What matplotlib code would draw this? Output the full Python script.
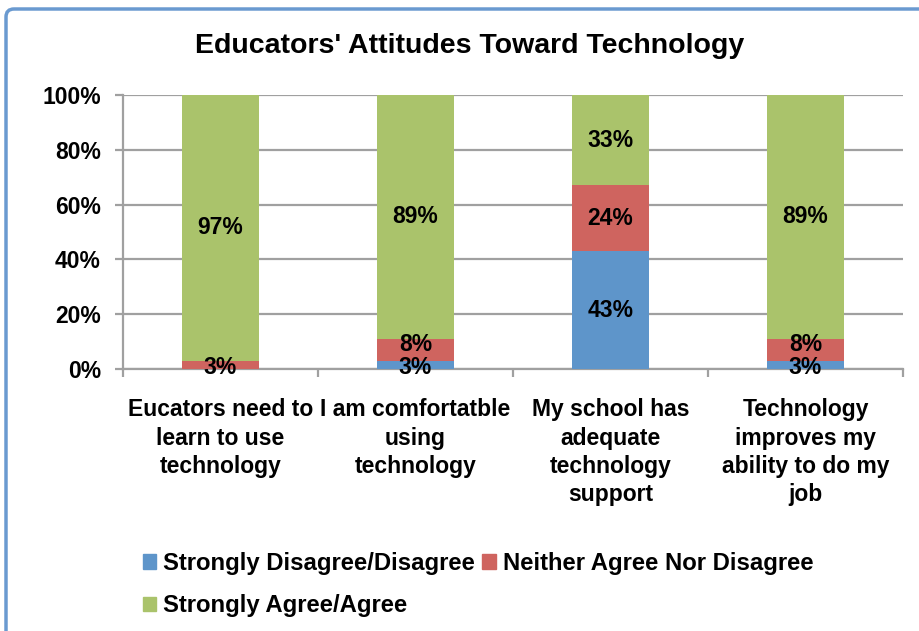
import matplotlib
matplotlib.use("Agg")
import matplotlib.pyplot as plt
from matplotlib.patches import FancyBboxPatch, Patch
import numpy as np

plt.rcParams['font.family'] = ['Liberation Sans', 'DejaVu Sans']
plt.rcParams['font.weight'] = 'bold'

# survey items and responses (percent)
categories = [
    "Eucators need to\nlearn to use\ntechnology",
    "I am comfortatble\nusing\ntechnology",
    "My school has\nadequate\ntechnology\nsupport",
    "Technology\nimproves my\nability to do my\njob",
]
disagree = [0, 3, 43, 3]
neutral = [3, 8, 24, 8]
agree = [97, 89, 33, 89]

series_names = ["Strongly Disagree/Disagree", "Neither Agree Nor Disagree",
                "Strongly Agree/Agree"]
colors = ["#5E95CA", "#CF645F", "#AAC36B"]
y_ticks = [0, 20, 40, 60, 80, 100]

fs = 16.5

fig = plt.figure(figsize=(9.19, 6.31), dpi=100)

# blue outer frame of the chart area
frame = FancyBboxPatch((6, -20), 940, 631 - 9 + 20,
                       boxstyle="round,pad=0,rounding_size=8",
                       transform=None, facecolor="none",
                       edgecolor="#6A9AD0", linewidth=2.5, zorder=0)
fig.patches.append(frame)

ax = fig.add_axes([123 / 919, 262 / 631, 780 / 919, 274 / 631])
ax.set_facecolor("none")

x = np.arange(len(categories))
width = 0.395
bottom = np.zeros(len(categories))
for vals, name, c in zip([disagree, neutral, agree], series_names, colors):
    vals = np.array(vals, dtype=float)
    ax.bar(x, vals, width, bottom=bottom, color=c, label=name, zorder=3)
    for xi, b, v in zip(x, bottom, vals):
        if v <= 0:
            continue
        # thin segments: spread the labels a little so they stay readable
        dy = 0
        if v < 10:
            dy = -2 if b == 0 else 4
        ax.annotate(f"{int(v)}%", (xi, b + v / 2), xytext=(0, dy),
                    textcoords="offset points", ha="center", va="center",
                    fontsize=fs, fontweight="bold", zorder=4)
    bottom += vals

ax.set_xlim(-0.5, len(categories) - 0.5)
ax.set_ylim(0, 100)
ax.set_yticks(y_ticks)
ax.set_yticklabels([f"{t}%" for t in y_ticks], fontsize=fs, fontweight="bold")
ax.yaxis.grid(True, color="#A0A0A0", linewidth=1.6, zorder=0)
ax.set_xticks(x)
ax.set_xticklabels(categories, fontsize=fs, fontweight="bold", linespacing=1.3)
ax.set_xticks(np.arange(-0.5, len(categories)), minor=True)
ax.tick_params(axis="x", which="major", length=0, pad=21)
ax.tick_params(axis="x", which="minor", length=6, width=1.6, color="#A0A0A0")
ax.tick_params(axis="y", length=6, width=1.6, color="#A0A0A0", pad=10)
for s in ["top", "right"]:
    ax.spines[s].set_visible(False)
for s in ["left", "bottom"]:
    ax.spines[s].set_color("#A0A0A0")
    ax.spines[s].set_linewidth(1.6)

fig.text(470 / 919, 1 - 46 / 631, "Educators' Attitudes Toward Technology",
         ha="center", va="center", fontsize=20.5, fontweight="bold")

handles = [Patch(color=c) for c in colors]
order = [0, 2, 1]
fig.legend([handles[i] for i in order], [series_names[i] for i in order],
           ncol=2, loc="upper left", bbox_to_anchor=(124 / 919, 1 - 533 / 631),
           frameon=False, prop={"weight": "bold", "size": 17.2},
           handlelength=0.55, handleheight=0.55, handletextpad=0.3,
           columnspacing=0.3, labelspacing=0.8, borderpad=0.3)

fig.savefig("out.png", dpi=100)
